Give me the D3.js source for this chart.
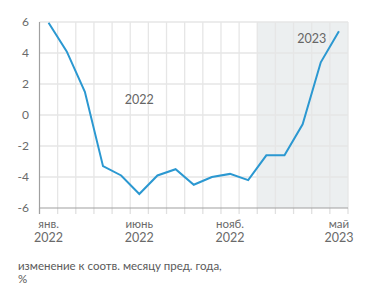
<!DOCTYPE html>
<html>
<head>
<meta charset="utf-8">
<script src="https://cdn.jsdelivr.net/npm/d3@7"></script>
<style>
  body { margin: 0; background: #fff; }
  svg { display: block; font-family: Lato, "Open Sans", sans-serif; }
</style>
</head>
<body>
<div id="chart"></div>
<script>
// months Jan 2022 .. May 2023
const months = ["янв.", "фев.", "март", "апр.", "май", "июнь", "июль", "авг.", "сент.", "окт.", "нояб.", "дек.",
                "янв.", "фев.", "март", "апр.", "май"];
const years = [2022, 2022, 2022, 2022, 2022, 2022, 2022, 2022, 2022, 2022, 2022, 2022,
               2023, 2023, 2023, 2023, 2023];
const values = [5.95, 4.1, 1.5, -3.3, -3.9, -5.1, -3.9, -3.5, -4.5, -4.0, -3.8, -4.2, -2.6, -2.6, -0.6, 3.4, 5.4];
const yTicks = [-6, -4, -2, 0, 2, 4, 6];
const labeledMonths = [0, 5, 10, 16];
const shadeFrom = 12; // 2023 starts here
const yearLabels = [{text: "2022", month: 5, value: 1}, {text: "2023", month: 14.5, value: 4.95}];
const caption = ["изменение к соотв. месяцу пред. года,", "%"];

const width = 371, height = 301;
const margin = {top: 22, right: 23, bottom: 93, left: 39.5};

const svg = d3.select("#chart").append("svg")
    .attr("width", width)
    .attr("height", height);

const x = d3.scaleBand()
    .domain(d3.range(months.length))
    .range([margin.left, width - margin.right])
    .paddingInner(0).paddingOuter(0);

const y = d3.scaleLinear()
    .domain([-6, 6])
    .range([height - margin.bottom, margin.top]);

const bw = x.bandwidth();

// shaded 2023 area
svg.append("rect")
    .attr("x", x(shadeFrom))
    .attr("y", y(6))
    .attr("width", x.range()[1] - x(shadeFrom))
    .attr("height", y(-6) - y(6))
    .attr("fill", "#eceff0");

// vertical gridlines (band edges)
const edges = d3.range(months.length + 1).map(i => margin.left + i * bw);
svg.append("g")
    .selectAll("line")
    .data(edges.slice(1))
    .enter().append("line")
    .attr("x1", d => d).attr("x2", d => d)
    .attr("y1", y(6)).attr("y2", y(-6))
    .attr("stroke", "#e6e6e6")
    .attr("stroke-width", 1.3);

// horizontal gridlines
svg.append("g")
    .selectAll("line")
    .data(yTicks.slice(1))
    .enter().append("line")
    .attr("x1", margin.left).attr("x2", x.range()[1])
    .attr("y1", d => y(d)).attr("y2", d => y(d))
    .attr("stroke", "#e6e6e6")
    .attr("stroke-width", 1.3);

// tick marks below x axis
svg.append("g")
    .selectAll("line")
    .data(edges)
    .enter().append("line")
    .attr("x1", d => d).attr("x2", d => d)
    .attr("y1", y(-6)).attr("y2", y(-6) + 6)
    .attr("stroke", "#e0e0e0")
    .attr("stroke-width", 1.3);

// axes lines
svg.append("line")
    .attr("x1", margin.left).attr("x2", x.range()[1])
    .attr("y1", y(-6)).attr("y2", y(-6))
    .attr("stroke", "#a0a0a0").attr("stroke-width", 1.2);
svg.append("line")
    .attr("x1", margin.left).attr("x2", margin.left)
    .attr("y1", y(6)).attr("y2", y(-6) + 6)
    .attr("stroke", "#a0a0a0").attr("stroke-width", 1.2);

// y tick labels
svg.append("g")
    .selectAll("text")
    .data(yTicks)
    .enter().append("text")
    .attr("x", 29)
    .attr("y", d => y(d))
    .attr("dy", "0.35em")
    .attr("text-anchor", "end")
    .attr("font-size", 12)
    .attr("fill", "#6a6a6a")
    .text(d => d);

// x tick labels: month name, then year
const xg = svg.append("g");
xg.selectAll("text.month")
    .data(labeledMonths)
    .enter().append("text")
    .attr("class", "month")
    .attr("x", i => x(i) + bw / 2)
    .attr("y", 228)
    .attr("text-anchor", "middle")
    .attr("font-size", 11.5)
    .attr("fill", "#6a6a6a")
    .text(i => months[i]);
xg.selectAll("text.year")
    .data(labeledMonths)
    .enter().append("text")
    .attr("class", "year")
    .attr("x", i => x(i) + bw / 2)
    .attr("y", 242)
    .attr("text-anchor", "middle")
    .attr("font-size", 12.5)
    .attr("fill", "#6a6a6a")
    .text(i => years[i]);

// line
const line = d3.line()
    .x((d, i) => x(i) + bw / 2)
    .y(d => y(d));

svg.append("path")
    .datum(values)
    .attr("d", line)
    .attr("fill", "none")
    .attr("stroke", "#2b98d1")
    .attr("stroke-width", 2);

// year labels
svg.append("g")
    .selectAll("text")
    .data(yearLabels)
    .enter().append("text")
    .attr("x", d => x(0) + bw * (d.month + 0.5))
    .attr("y", d => y(d.value))
    .attr("dy", "0.35em")
    .attr("text-anchor", "middle")
    .attr("font-size", 12.5)
    .attr("fill", "#666")
    .text(d => d.text);

// caption
svg.append("g")
    .selectAll("text")
    .data(caption)
    .enter().append("text")
    .attr("x", 18)
    .attr("y", (d, i) => 270 + i * 13)
    .attr("font-size", 11.5)
    .attr("fill", "#5a5a5a")
    .text(d => d);
</script>
</body>
</html>
